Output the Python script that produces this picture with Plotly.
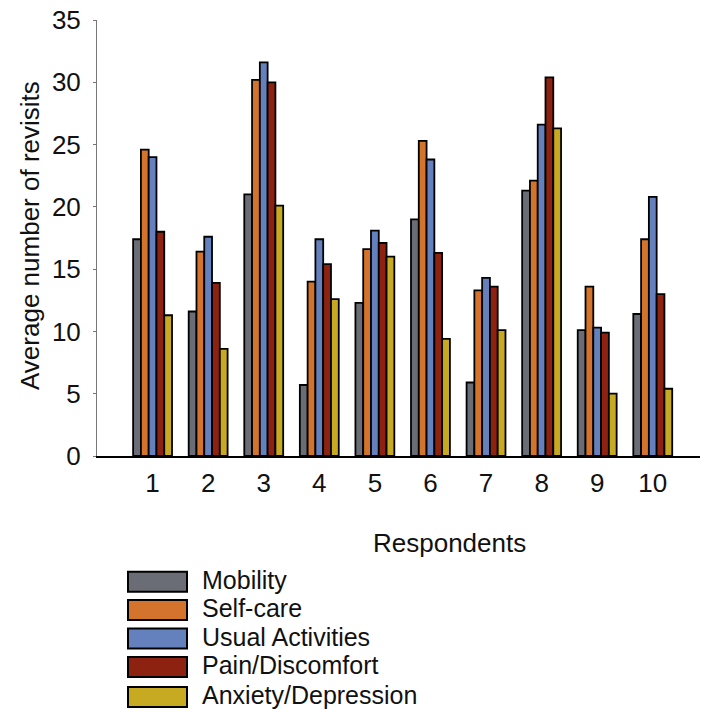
import plotly.graph_objects as go

respondents = [1, 2, 3, 4, 5, 6, 7, 8, 9, 10]
series_names = ["Mobility", "Self-care", "Usual Activities", "Pain/Discomfort", "Anxiety/Depression"]
mobility = [17.4, 11.6, 21.0, 5.7, 12.3, 19.0, 5.9, 21.3, 10.1, 11.4]
self_care = [24.6, 16.4, 30.2, 14.0, 16.6, 25.3, 13.3, 22.1, 13.6, 17.4]
usual_activities = [24.0, 17.6, 31.6, 17.4, 18.1, 23.8, 14.3, 26.6, 10.3, 20.8]
pain_discomfort = [18.0, 13.9, 30.0, 15.4, 17.1, 16.3, 13.6, 30.4, 9.9, 13.0]
anxiety_depression = [11.3, 8.6, 20.1, 12.6, 16.0, 9.4, 10.1, 26.3, 5.0, 5.4]
y_ticks = [0, 5, 10, 15, 20, 25, 30, 35]

colors = ["#6a6d75", "#d4732b", "#6581bd", "#8e2211", "#c8aa22"]
all_values = [mobility, self_care, usual_activities, pain_discomfort, anxiety_depression]

W, H = 702, 709
L, R, T, B = 97, 2, 20, 253
pw, ph = W - L - R, H - T - B
FONT = "Liberation Sans, Arial, sans-serif"
FS = 26

def px_x(p):
    return (p - L) / pw

def px_y(p):
    return (H - B - p) / ph

fig = go.Figure()
for name, vals, col in zip(series_names, all_values, colors):
    fig.add_trace(go.Bar(
        x=respondents, y=vals, name=name,
        marker=dict(color=col, line=dict(color="black", width=1.8)),
        showlegend=False,
    ))

shapes = []
annotations = []
row_centers = [581.7, 610, 638.5, 667, 697]
for name, col, cy in zip(series_names, colors, row_centers):
    shapes.append(dict(type="rect", xref="paper", yref="paper",
                       x0=px_x(128), x1=px_x(187), y0=px_y(cy + 10), y1=px_y(cy - 10),
                       fillcolor=col, line=dict(color="black", width=2)))
    annotations.append(dict(text=name, xref="paper", yref="paper",
                            x=px_x(200), y=px_y(cy - 2), xanchor="left", yanchor="middle",
                            showarrow=False, font=dict(size=FS - 1, color="#111", family=FONT)))

annotations.append(dict(text="Respondents", xref="paper", yref="paper",
                        x=px_x(449), y=px_y(543), xanchor="center", yanchor="middle",
                        showarrow=False, font=dict(size=FS, color="#111", family=FONT)))
annotations.append(dict(text="Average number of revisits", xref="paper", yref="paper",
                        x=px_x(30), y=px_y(236), xanchor="center", yanchor="middle",
                        textangle=-90, showarrow=False,
                        font=dict(size=FS, color="#111", family=FONT)))

fig.update_layout(
    width=W, height=H,
    margin=dict(l=L, r=R, t=T, b=B),
    paper_bgcolor="white", plot_bgcolor="white",
    barmode="group", bargap=0.3, bargroupgap=0,
    font=dict(family=FONT, size=FS, color="#111"),
    shapes=shapes, annotations=annotations,
    xaxis=dict(range=[0, 10.85], tickmode="array", tickvals=respondents,
               ticktext=[str(r) for r in respondents], showgrid=False, zeroline=False,
               showline=True, linecolor="black", linewidth=2, ticks="",
               ticklabelstandoff=3, tickfont=dict(size=FS, family=FONT, color="#111")),
    yaxis=dict(range=[0, 35], tickmode="array", tickvals=y_ticks, showgrid=False,
               zeroline=False, showline=True, linecolor="#777", linewidth=1,
               ticks="outside", ticklen=3, tickcolor="#777", ticklabelstandoff=7,
               tickfont=dict(size=FS, family=FONT, color="#111")),
)

fig.write_html("out.html", config={"displayModeBar": False},
               post_script="document.body.style.margin='0';document.body.style.padding='0';")
